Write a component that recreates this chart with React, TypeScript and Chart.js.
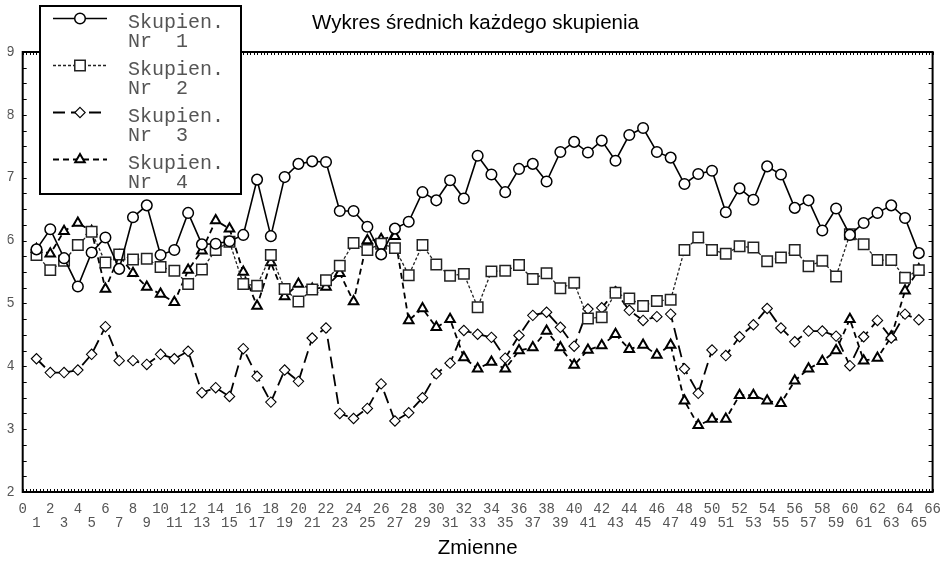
import React, { useEffect, useRef } from 'react';
import { Chart, registerables } from 'chart.js';

Chart.register(...registerables);

// Variables (x positions of the points)
const variables = [
  1, 2, 3, 4, 5, 6, 7, 8, 9, 10, 11, 12, 13, 14, 15, 16, 17, 18, 19, 20,
  21, 22, 23, 24, 25, 26, 27, 28, 29, 30, 31, 32, 33, 34, 35, 36, 37, 38, 39, 40,
  41, 42, 43, 44, 45, 46, 47, 48, 49, 50, 51, 52, 53, 54, 55, 56, 57, 58, 59, 60,
  61, 62, 63, 64, 65,
];

// Cluster means
const cluster1 = [
  5.86, 6.18, 5.72, 5.27, 5.81, 6.05, 5.55, 6.37, 6.56, 5.77,
  5.85, 6.44, 5.94, 5.95, 5.99, 6.09, 6.97, 6.07, 7.01, 7.22,
  7.26, 7.25, 6.47, 6.47, 6.22, 5.78, 6.19, 6.30, 6.77, 6.64,
  6.96, 6.67, 7.35, 7.05, 6.77, 7.14, 7.22, 6.94, 7.41, 7.57,
  7.40, 7.59, 7.27, 7.68, 7.79, 7.41, 7.32, 6.90, 7.06, 7.11,
  6.45, 6.83, 6.65, 7.18, 7.05, 6.52, 6.64, 6.16, 6.51, 6.09,
  6.28, 6.44, 6.56, 6.36, 5.80,
];
const cluster2 = [
  5.77, 5.53, 5.68, 5.93, 6.14, 5.65, 5.78, 5.70, 5.71, 5.58,
  5.52, 5.31, 5.54, 5.85, 5.98, 5.31, 5.28, 5.77, 5.23, 5.03,
  5.22, 5.37, 5.60, 5.96, 5.85, 5.95, 5.88, 5.45, 5.93, 5.62,
  5.44, 5.47, 4.94, 5.51, 5.52, 5.61, 5.39, 5.48, 5.24, 5.33,
  4.76, 4.78, 5.17, 5.08, 4.96, 5.04, 5.06, 5.85, 6.05, 5.85,
  5.79, 5.91, 5.89, 5.67, 5.73, 5.85, 5.59, 5.68, 5.43, 6.10,
  5.94, 5.69, 5.69, 5.41, 5.53,
];
const cluster3 = [
  4.12, 3.90, 3.90, 3.94, 4.19, 4.63, 4.09, 4.09, 4.03, 4.19,
  4.12, 4.24, 3.58, 3.66, 3.52, 4.28, 3.84, 3.43, 3.94, 3.76,
  4.45, 4.61, 3.25, 3.17, 3.33, 3.72, 3.13, 3.26, 3.50, 3.88,
  4.05, 4.57, 4.51, 4.46, 4.13, 4.49, 4.81, 4.86, 4.62, 4.32,
  4.91, 4.93, 5.19, 4.89, 4.73, 4.79, 4.83, 3.96, 3.57, 4.26,
  4.17, 4.47, 4.66, 4.92, 4.61, 4.39, 4.56, 4.56, 4.48, 4.01,
  4.47, 4.73, 4.45, 4.83, 4.74,
];
const cluster4 = [
  5.86, 5.79, 6.15, 6.28, 6.15, 5.23, 5.76, 5.48, 5.26, 5.15,
  5.02, 5.53, 5.84, 6.32, 6.19, 5.50, 4.96, 5.65, 5.11, 5.31,
  5.23, 5.26, 5.48, 5.03, 6.00, 6.02, 6.07, 4.73, 4.92, 4.62,
  4.75, 4.14, 3.96, 4.07, 3.96, 4.25, 4.30, 4.56, 4.30, 4.02,
  4.26, 4.33, 4.51, 4.27, 4.34, 4.18, 4.34, 3.45, 3.06, 3.16,
  3.16, 3.54, 3.54, 3.45, 3.41, 3.77, 3.96, 4.08, 4.25, 4.75,
  4.09, 4.13, 4.47, 5.20, 5.54,
];

const legendLabels = [
  ['Skupien.', 'Nr  1'],
  ['Skupien.', 'Nr  2'],
  ['Skupien.', 'Nr  3'],
  ['Skupien.', 'Nr  4'],
];

const titleText = 'Wykres średnich każdego skupienia';
const xTitleText = 'Zmienne';
const xMin = 0;
const xMax = 66;
const yMin = 2;
const yMax = 9;

type Style = {
  dash: number[];
  lineWidth: number;
  point: string;
  radius: number;
  pointBorder: number;
  color: string;
};

const styles: Style[] = [
  { dash: [], lineWidth: 1.6, point: 'circle', radius: 5.3, pointBorder: 1.5, color: '#000' },
  { dash: [3, 2], lineWidth: 1.3, point: 'rect', radius: 7.4, pointBorder: 1.5, color: '#222' },
  { dash: [12, 6], lineWidth: 1.8, point: 'rectRot', radius: 5.2, pointBorder: 1.1, color: '#000' },
  { dash: [6, 4], lineWidth: 1.8, point: 'triangle', radius: 5.5, pointBorder: 2, color: '#000' },
];

function drawMarker(ctx: CanvasRenderingContext2D, kind: string, x: number, y: number, r: number) {
  ctx.beginPath();
  if (kind === 'circle') {
    ctx.arc(x, y, r, 0, Math.PI * 2);
  } else if (kind === 'rect') {
    const s = Math.SQRT1_2 * r;
    ctx.rect(x - s, y - s, 2 * s, 2 * s);
  } else if (kind === 'rectRot') {
    ctx.moveTo(x, y - r);
    ctx.lineTo(x + r, y);
    ctx.lineTo(x, y + r);
    ctx.lineTo(x - r, y);
  } else {
    let a = 0;
    ctx.moveTo(x + Math.sin(a) * r, y - Math.cos(a) * r);
    a += (2 * Math.PI) / 3;
    ctx.lineTo(x + Math.sin(a) * r, y - Math.cos(a) * r);
    a += (2 * Math.PI) / 3;
    ctx.lineTo(x + Math.sin(a) * r, y - Math.cos(a) * r);
  }
  ctx.closePath();
  ctx.fillStyle = '#fff';
  ctx.fill();
  ctx.stroke();
}

const framePlugin = {
  id: 'statFrame',
  beforeDatasetsDraw(chart: any) {
    const { ctx, chartArea } = chart;
    const { left, right, top, bottom } = chartArea;
    const xs = chart.scales.x;
    const ys = chart.scales.y;
    ctx.save();
    ctx.strokeStyle = '#000';
    ctx.lineWidth = 1;
    ctx.beginPath();
    for (let v = xMin; v <= xMax + 1e-6; v += 0.25) {
      const px = Math.round(xs.getPixelForValue(v)) + 0.5;
      ctx.moveTo(px, bottom);
      ctx.lineTo(px, bottom - 3);
      ctx.moveTo(px, top);
      ctx.lineTo(px, top + 3);
    }
    for (let v = yMin; v <= yMax + 1e-6; v += 0.25) {
      const py = Math.round(ys.getPixelForValue(v)) + 0.5;
      ctx.moveTo(left, py);
      ctx.lineTo(left + 4, py);
      ctx.moveTo(right, py);
      ctx.lineTo(right - 4, py);
    }
    ctx.stroke();
    ctx.lineWidth = 2;
    ctx.strokeRect(left, top, right - left, bottom - top);
    ctx.restore();
  },
};

const legendPlugin = {
  id: 'statLegend',
  afterDraw(chart: any) {
    const ctx: CanvasRenderingContext2D = chart.ctx;
    ctx.save();
    const bx = 40, by = 6, bw = 201, bh = 188;
    ctx.fillStyle = '#fff';
    ctx.fillRect(bx, by, bw, bh);
    ctx.strokeStyle = '#000';
    ctx.lineWidth = 2;
    ctx.strokeRect(bx, by, bw, bh);
    legendLabels.forEach((lines, i) => {
      const st = styles[i];
      const ly = 18.5 + 47 * i;
      ctx.strokeStyle = st.color;
      ctx.lineWidth = st.lineWidth;
      ctx.setLineDash(st.dash);
      ctx.beginPath();
      ctx.moveTo(53, ly);
      ctx.lineTo(107, ly);
      ctx.stroke();
      ctx.setLineDash([]);
      ctx.lineWidth = st.pointBorder;
      drawMarker(ctx, st.point, 80, ly, st.radius);
      ctx.fillStyle = '#555';
      ctx.font = '20px "Liberation Mono", monospace';
      ctx.textBaseline = 'middle';
      ctx.textAlign = 'left';
      ctx.fillText(lines[0], 128, ly + 4.5);
      ctx.fillText(lines[1], 128, ly + 23.5);
    });
    ctx.restore();
  },
};

const seriesValues = [cluster1, cluster2, cluster3, cluster4];

export default function App() {
  const canvasRef = useRef<HTMLCanvasElement | null>(null);

  useEffect(() => {
    document.body.style.margin = '0';
    const canvas = canvasRef.current;
    if (!canvas) return;
    const datasets = seriesValues.map((vals, i) => {
      const st = styles[i];
      return {
        label: legendLabels[i].join(' '),
        data: variables.map((x, j) => ({ x, y: vals[j] })),
        borderColor: st.color,
        borderWidth: st.lineWidth,
        borderDash: st.dash,
        tension: 0,
        pointStyle: st.point,
        pointRadius: st.radius,
        pointBorderWidth: st.pointBorder,
        pointBackgroundColor: '#fff',
        pointBorderColor: st.color,
        fill: false,
      };
    });
    const chart = new Chart(canvas, {
      type: 'line',
      data: { datasets } as any,
      plugins: [framePlugin, legendPlugin],
      options: {
        responsive: false,
        animation: false,
        layout: { padding: { left: 7.5, right: 7.5, top: 0, bottom: 0 } },
        plugins: {
          legend: { display: false },
          tooltip: { enabled: false },
          title: {
            display: true,
            text: titleText,
            color: '#000',
            font: { family: '"Liberation Sans", Arial, sans-serif', size: 20.5, weight: 'normal', lineHeight: 1.2 },
            padding: { top: 11.5, bottom: 15.9 },
          },
        },
        scales: {
          x: {
            type: 'linear',
            min: xMin,
            max: xMax,
            grid: { display: false, drawTicks: false },
            border: { display: false },
            ticks: {
              stepSize: 1,
              autoSkip: false,
              maxRotation: 0,
              minRotation: 0,
              padding: 10,
              color: '#555',
              font: { family: '"Liberation Mono", monospace', size: 14, lineHeight: 1 },
              callback: (v: any) => (Number(v) % 2 === 0 ? String(v) : ['', String(v)]),
            },
            title: {
              display: true,
              text: xTitleText,
              color: '#000',
              font: { family: '"Liberation Sans", Arial, sans-serif', size: 20.5, weight: 'normal', lineHeight: 1.2 },
              padding: { top: 0, bottom: 0 },
            },
            afterFit: (s: any) => {
              s.height = 69;
            },
          },
          y: {
            type: 'linear',
            min: yMin,
            max: yMax,
            grid: { display: false, drawTicks: false },
            border: { display: false },
            ticks: {
              stepSize: 1,
              padding: 8,
              color: '#555',
              font: { family: '"Liberation Mono", monospace', size: 14, lineHeight: 1 },
            },
            afterFit: (s: any) => {
              s.width = 15.2;
            },
          },
          yRight: {
            type: 'linear',
            position: 'right',
            min: yMin,
            max: yMax,
            grid: { display: false, drawTicks: false },
            border: { display: false },
            ticks: { display: false },
            afterFit: (s: any) => {
              s.width = 7.5;
            },
          },
        },
      } as any,
    });
    return () => chart.destroy();
  }, []);

  return <canvas ref={canvasRef} width={951} height={561} style={{ display: 'block' }} />;
}
